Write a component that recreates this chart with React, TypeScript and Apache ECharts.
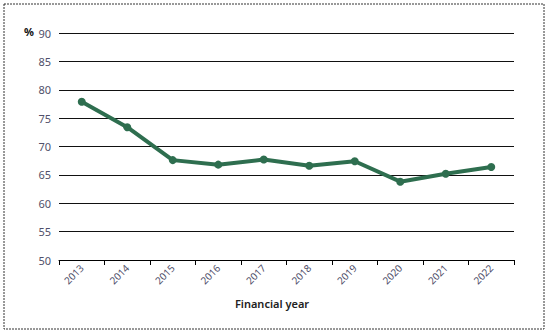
import React, { useEffect, useRef } from "react";
import * as echarts from "echarts";

const years = ["2013", "2014", "2015", "2016", "2017", "2018", "2019", "2020", "2021", "2022"];
const values = [77.9, 73.4, 67.6, 66.8, 67.7, 66.6, 67.4, 63.8, 65.2, 66.4];
const yMin = 50;
const yMax = 90;
const yStep = 5;

export default function App() {
  const ref = useRef<HTMLDivElement>(null);
  useEffect(() => {
    if (!ref.current) return;
    const chart = echarts.init(ref.current, undefined, { renderer: "svg" });
    const font = "'Noto Sans', sans-serif";
    const labelColor = "#50506a";
    chart.setOption({
      animation: false,
      backgroundColor: "#fff",
      grid: { left: 59, right: 34, top: 33, bottom: 75, containLabel: false },
      xAxis: {
        type: "category",
        data: years,
        boundaryGap: true,
        axisLine: { show: true, lineStyle: { color: "#000", width: 1 } },
        axisTick: { show: true, alignWithLabel: false, length: 5, lineStyle: { color: "#000" } },
        axisLabel: { rotate: 45, margin: 6, color: labelColor, fontSize: 10, fontFamily: font },
        splitLine: { show: false },
      },
      yAxis: {
        type: "value",
        min: yMin,
        max: yMax,
        interval: yStep,
        axisLine: { show: false },
        axisTick: { show: false },
        axisLabel: { margin: 8, color: labelColor, fontSize: 11, fontFamily: font },
        splitLine: { show: true, lineStyle: { color: "#111", width: 1 } },
      },
      series: [
        {
          type: "line",
          data: values,
          symbol: "circle",
          symbolSize: 8,
          lineStyle: { color: "#2e6e4f", width: 4 },
          itemStyle: { color: "#2e6e4f" },
          z: 5,
        },
      ],
      graphic: [
        {
          type: "rect",
          shape: { x: 4, y: 4, width: 540, height: 325 },
          style: { fill: "none", stroke: "#333", lineWidth: 1, lineDash: [2, 1] },
          silent: true,
        },
        {
          type: "text",
          x: 24,
          y: 26,
          style: { text: "%", fill: "#111", font: `bold 11px ${font}` },
        },
        {
          type: "text",
          x: 272,
          y: 298,
          style: { text: "Financial year", fill: "#222", font: `600 11px ${font}`, textAlign: "center" },
        },
      ],
    });
    return () => chart.dispose();
  }, []);
  return (
    <div style={{ position: "fixed", left: 0, top: 0, width: 548, height: 335 }}>
      <div ref={ref} style={{ width: 548, height: 335 }} />
    </div>
  );
}
